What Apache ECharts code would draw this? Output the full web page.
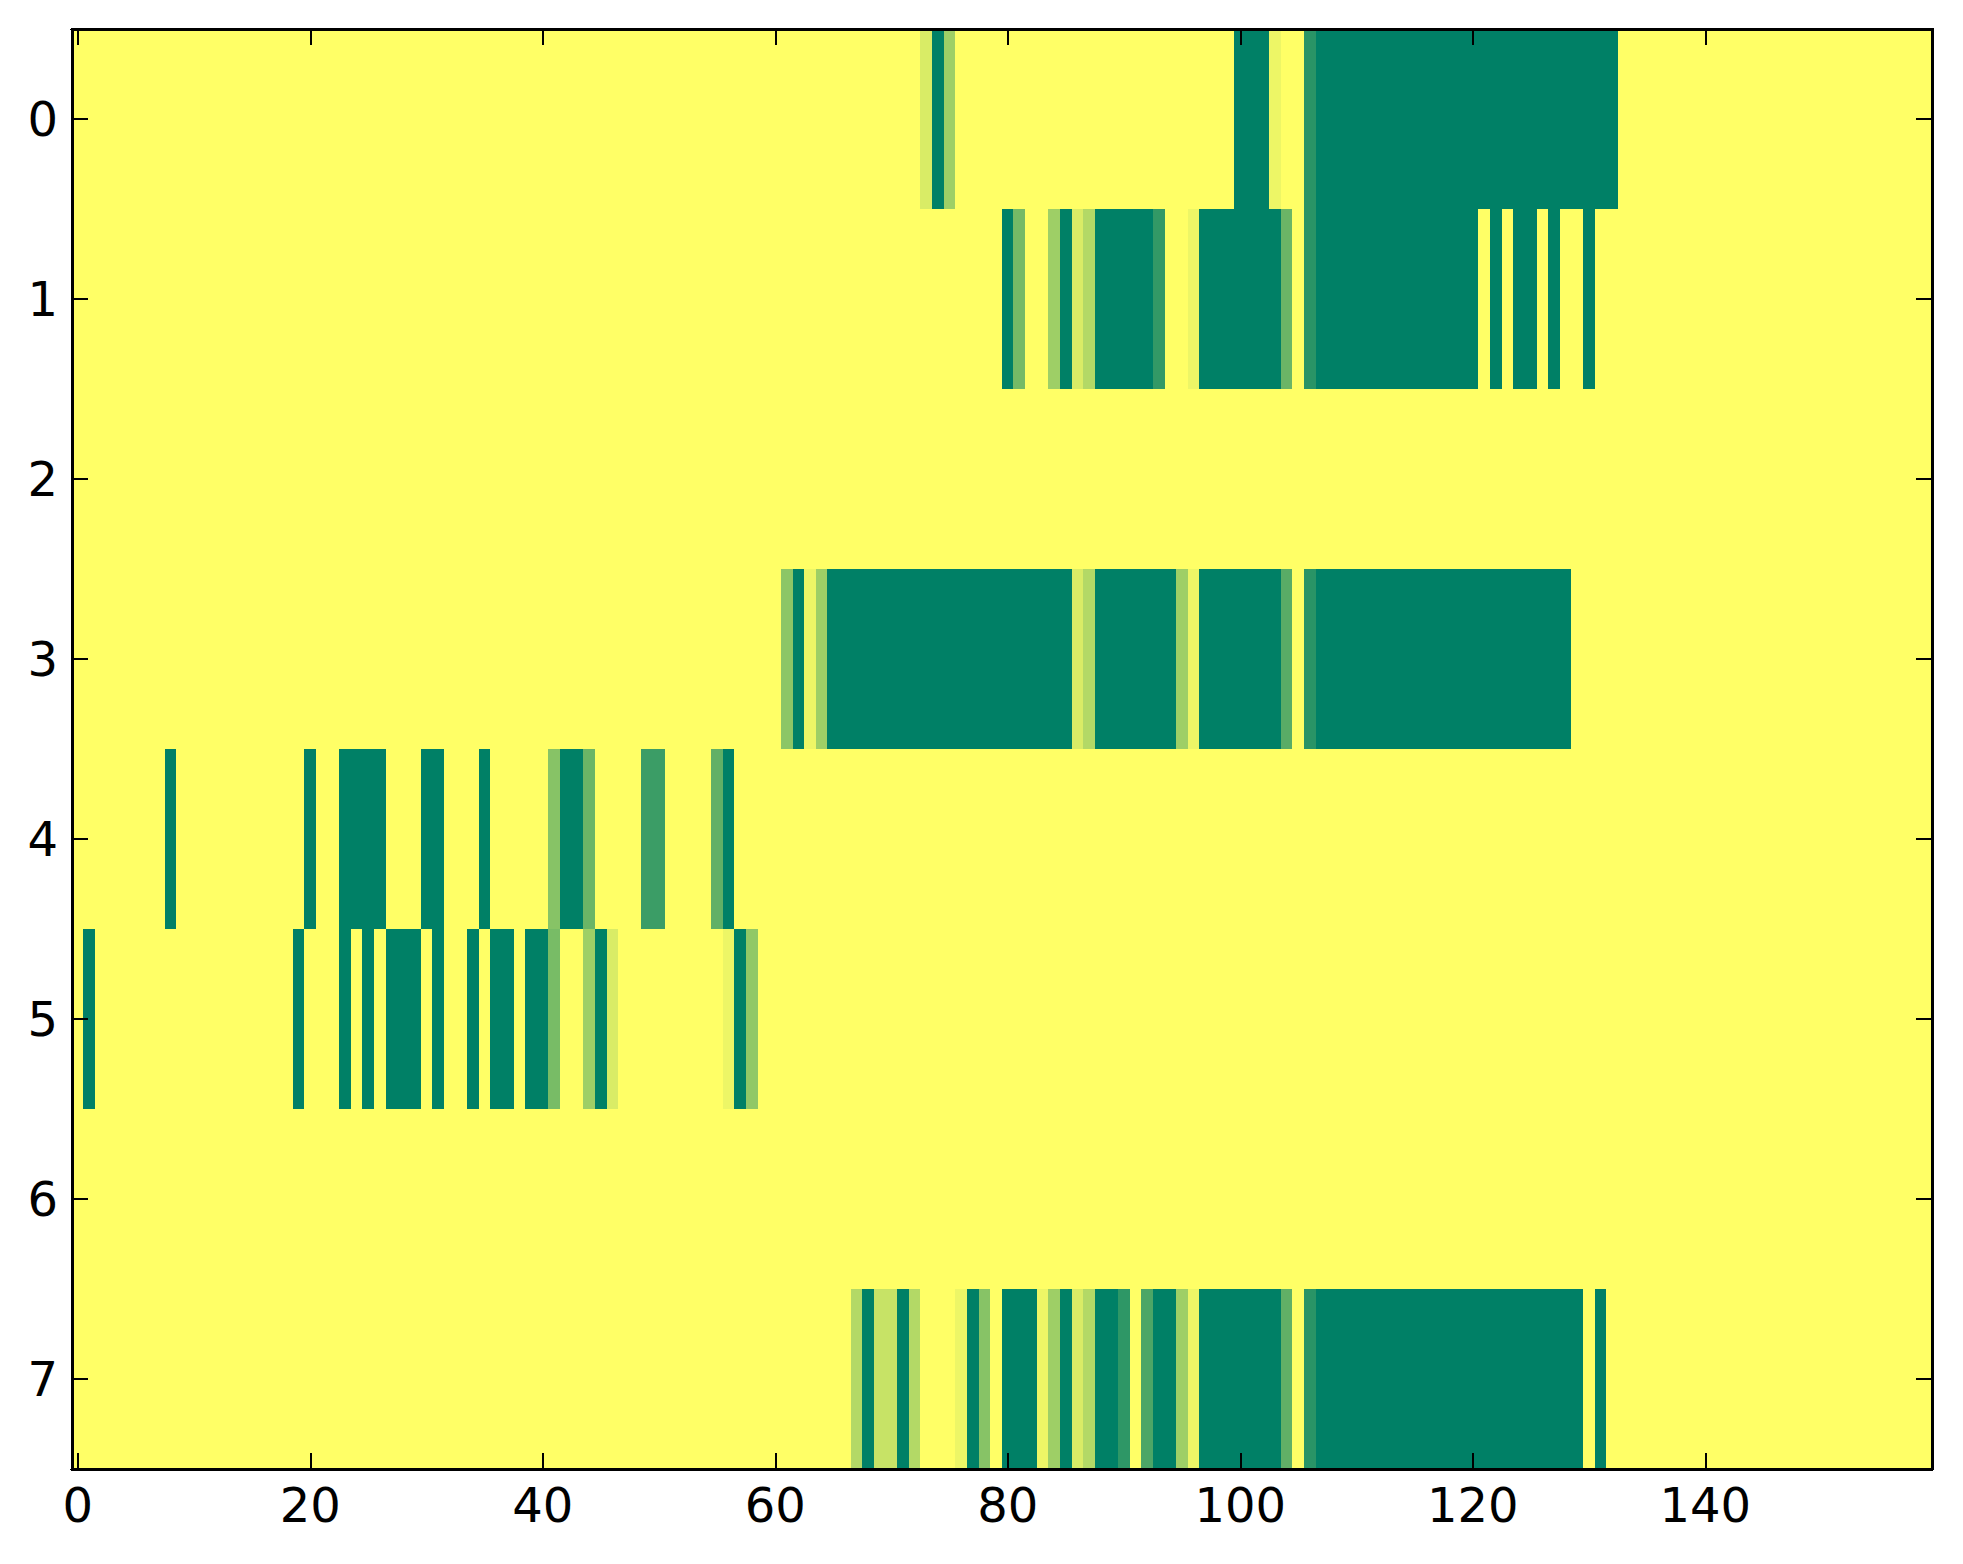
<!DOCTYPE html>
<html>
<head>
<meta charset="utf-8">
<script src="https://cdn.jsdelivr.net/npm/echarts@6/dist/echarts.min.js"></script>
<style>
html,body{margin:0;padding:0;background:#fff;}
#c{width:1963px;height:1564px;}
#c svg path{shape-rendering:crispEdges;}
</style>
</head>
<body>
<div id="c"></div>
<script>
// Column labels 0..159 and row labels 0..7
const colLabels = ["0","1","2","3","4","5","6","7","8","9","10","11","12","13","14","15","16","17","18","19","20","21","22","23","24","25","26","27","28","29","30","31","32","33","34","35","36","37","38","39","40","41","42","43","44","45","46","47","48","49","50","51","52","53","54","55","56","57","58","59","60","61","62","63","64","65","66","67","68","69","70","71","72","73","74","75","76","77","78","79","80","81","82","83","84","85","86","87","88","89","90","91","92","93","94","95","96","97","98","99","100","101","102","103","104","105","106","107","108","109","110","111","112","113","114","115","116","117","118","119","120","121","122","123","124","125","126","127","128","129","130","131","132","133","134","135","136","137","138","139","140","141","142","143","144","145","146","147","148","149","150","151","152","153","154","155","156","157","158","159"];
const rowLabels = ["0","1","2","3","4","5","6","7"];

const row0 = [
1,1,1,1,1,1,1,1,1,1,1,1,1,1,1,1,1,1,1,1,
1,1,1,1,1,1,1,1,1,1,1,1,1,1,1,1,1,1,1,1,
1,1,1,1,1,1,1,1,1,1,1,1,1,1,1,1,1,1,1,1,
1,1,1,1,1,1,1,1,1,1,1,1,1,.85,0,.62,1,1,1,1,
1,1,1,1,1,1,1,1,1,1,1,1,1,1,1,1,1,1,1,1,
0,0,0,.93,1,1,.16,0,0,0,0,0,0,0,0,0,0,0,0,0,
0,0,0,0,0,0,0,0,0,0,0,0,0,1,1,1,1,1,1,1,
1,1,1,1,1,1,1,1,1,1,1,1,1,1,1,1,1,1,1,1];

const row1 = [
1,1,1,1,1,1,1,1,1,1,1,1,1,1,1,1,1,1,1,1,
1,1,1,1,1,1,1,1,1,1,1,1,1,1,1,1,1,1,1,1,
1,1,1,1,1,1,1,1,1,1,1,1,1,1,1,1,1,1,1,1,
1,1,1,1,1,1,1,1,1,1,1,1,1,1,1,1,1,1,1,1,
0,.46,1,1,.62,0,.85,.70,0,0,0,0,0,.2,1,1,.93,0,0,0,
0,0,0,0,.42,1,.16,0,0,0,0,0,0,0,0,0,0,0,0,0,
0,1,0,1,0,0,1,0,1,1,0,1,1,1,1,1,1,1,1,1,
1,1,1,1,1,1,1,1,1,1,1,1,1,1,1,1,1,1,1,1];

const row2 = [
1,1,1,1,1,1,1,1,1,1,1,1,1,1,1,1,1,1,1,1,
1,1,1,1,1,1,1,1,1,1,1,1,1,1,1,1,1,1,1,1,
1,1,1,1,1,1,1,1,1,1,1,1,1,1,1,1,1,1,1,1,
1,1,1,1,1,1,1,1,1,1,1,1,1,1,1,1,1,1,1,1,
1,1,1,1,1,1,1,1,1,1,1,1,1,1,1,1,1,1,1,1,
1,1,1,1,1,1,1,1,1,1,1,1,1,1,1,1,1,1,1,1,
1,1,1,1,1,1,1,1,1,1,1,1,1,1,1,1,1,1,1,1,
1,1,1,1,1,1,1,1,1,1,1,1,1,1,1,1,1,1,1,1];

const row3 = [
1,1,1,1,1,1,1,1,1,1,1,1,1,1,1,1,1,1,1,1,
1,1,1,1,1,1,1,1,1,1,1,1,1,1,1,1,1,1,1,1,
1,1,1,1,1,1,1,1,1,1,1,1,1,1,1,1,1,1,1,1,
1,.55,0,.93,.62,0,0,0,0,0,0,0,0,0,0,0,0,0,0,0,
0,0,0,0,0,0,.85,.70,0,0,0,0,0,0,0,.62,.93,0,0,0,
0,0,0,0,.35,1,.16,0,0,0,0,0,0,0,0,0,0,0,0,0,
0,0,0,0,0,0,0,0,0,1,1,1,1,1,1,1,1,1,1,1,
1,1,1,1,1,1,1,1,1,1,1,1,1,1,1,1,1,1,1,1];

const row4 = [
1,1,1,1,1,1,1,1,0,1,1,1,1,1,1,1,1,1,1,1,
0,1,1,0,0,0,0,1,1,1,0,0,1,1,1,0,1,1,1,1,
1,.53,0,0,.42,1,1,1,1,.23,.23,1,1,1,1,.38,0,1,1,1,
1,1,1,1,1,1,1,1,1,1,1,1,1,1,1,1,1,1,1,1,
1,1,1,1,1,1,1,1,1,1,1,1,1,1,1,1,1,1,1,1,
1,1,1,1,1,1,1,1,1,1,1,1,1,1,1,1,1,1,1,1,
1,1,1,1,1,1,1,1,1,1,1,1,1,1,1,1,1,1,1,1,
1,1,1,1,1,1,1,1,1,1,1,1,1,1,1,1,1,1,1,1];

const row5 = [
1,0,1,1,1,1,1,1,1,1,1,1,1,1,1,1,1,1,1,0,
1,1,1,0,1,0,1,0,0,0,1,0,1,1,0,1,0,0,1,0,
0,.47,1,1,.62,0,.85,1,1,1,1,1,1,1,1,1,.93,0,.57,1,
1,1,1,1,1,1,1,1,1,1,1,1,1,1,1,1,1,1,1,1,
1,1,1,1,1,1,1,1,1,1,1,1,1,1,1,1,1,1,1,1,
1,1,1,1,1,1,1,1,1,1,1,1,1,1,1,1,1,1,1,1,
1,1,1,1,1,1,1,1,1,1,1,1,1,1,1,1,1,1,1,1,
1,1,1,1,1,1,1,1,1,1,1,1,1,1,1,1,1,1,1,1];

const row6 = [
1,1,1,1,1,1,1,1,1,1,1,1,1,1,1,1,1,1,1,1,
1,1,1,1,1,1,1,1,1,1,1,1,1,1,1,1,1,1,1,1,
1,1,1,1,1,1,1,1,1,1,1,1,1,1,1,1,1,1,1,1,
1,1,1,1,1,1,1,1,1,1,1,1,1,1,1,1,1,1,1,1,
1,1,1,1,1,1,1,1,1,1,1,1,1,1,1,1,1,1,1,1,
1,1,1,1,1,1,1,1,1,1,1,1,1,1,1,1,1,1,1,1,
1,1,1,1,1,1,1,1,1,1,1,1,1,1,1,1,1,1,1,1,
1,1,1,1,1,1,1,1,1,1,1,1,1,1,1,1,1,1,1,1];

const row7 = [
1,1,1,1,1,1,1,1,1,1,1,1,1,1,1,1,1,1,1,1,
1,1,1,1,1,1,1,1,1,1,1,1,1,1,1,1,1,1,1,1,
1,1,1,1,1,1,1,1,1,1,1,1,1,1,1,1,1,1,1,1,
1,1,1,1,1,1,1,.70,0,.78,.78,0,.70,1,1,1,.93,0,.53,1,
0,0,0,.93,.62,0,.85,.70,0,0,.18,1,.30,0,0,.62,.93,0,0,0,
0,0,0,0,.38,1,.16,0,0,0,0,0,0,0,0,0,0,0,0,0,
0,0,0,0,0,0,0,0,0,0,1,0,1,1,1,1,1,1,1,1,
1,1,1,1,1,1,1,1,1,1,1,1,1,1,1,1,1,1,1,1];

const rows = [row0,row1,row2,row3,row4,row5,row6,row7];
const data = [];
rows.forEach((r, yi) => r.forEach((v, xi) => data.push([xi, yi, v])));

const FONT = 'DejaVu Sans';
const tickStyle = {show:true, inside:true, length:16, alignWithLabel:true, lineStyle:{color:'#000', width:2}};
const lineStyle = {show:true, onZero:false, lineStyle:{color:'#000', width:3}};

const chart = echarts.init(document.getElementById('c'), null, {renderer:'svg'});
chart.setOption({
  backgroundColor:'#fff',
  animation:false,
  grid:{left:72, right:31, top:29, bottom:95, containLabel:false},
  visualMap:{show:false, min:0, max:1, dimension:2, inRange:{color:['#008066','#ffff66']}},
  xAxis:[
    {type:'category', data:colLabels, position:'bottom', z:10,
     axisLine:lineStyle,
     axisTick:Object.assign({}, tickStyle, {interval:19}),
     axisLabel:{interval:19, color:'#000', fontSize:48, fontFamily:FONT, margin:12},
     splitLine:{show:false}},
    {type:'category', data:colLabels, position:'top', z:10,
     axisLine:lineStyle,
     axisTick:Object.assign({}, tickStyle, {interval:19}),
     axisLabel:{show:false, interval:19},
     splitLine:{show:false}}
  ],
  yAxis:[
    {type:'category', data:rowLabels, inverse:true, position:'left', z:10,
     axisLine:lineStyle,
     axisTick:Object.assign({}, tickStyle, {interval:0}),
     axisLabel:{interval:0, color:'#000', fontSize:48, fontFamily:FONT, margin:14},
     splitLine:{show:false}},
    {type:'category', data:rowLabels, inverse:true, position:'right', z:10,
     axisLine:lineStyle,
     axisTick:Object.assign({}, tickStyle, {interval:0}),
     axisLabel:{show:false},
     splitLine:{show:false}}
  ],
  series:[{
    type:'heatmap',
    xAxisIndex:0, yAxisIndex:0,
    data:data,
    itemStyle:{borderWidth:0},
    emphasis:{disabled:true},
    progressive:0
  }]
});
</script>
</body>
</html>
